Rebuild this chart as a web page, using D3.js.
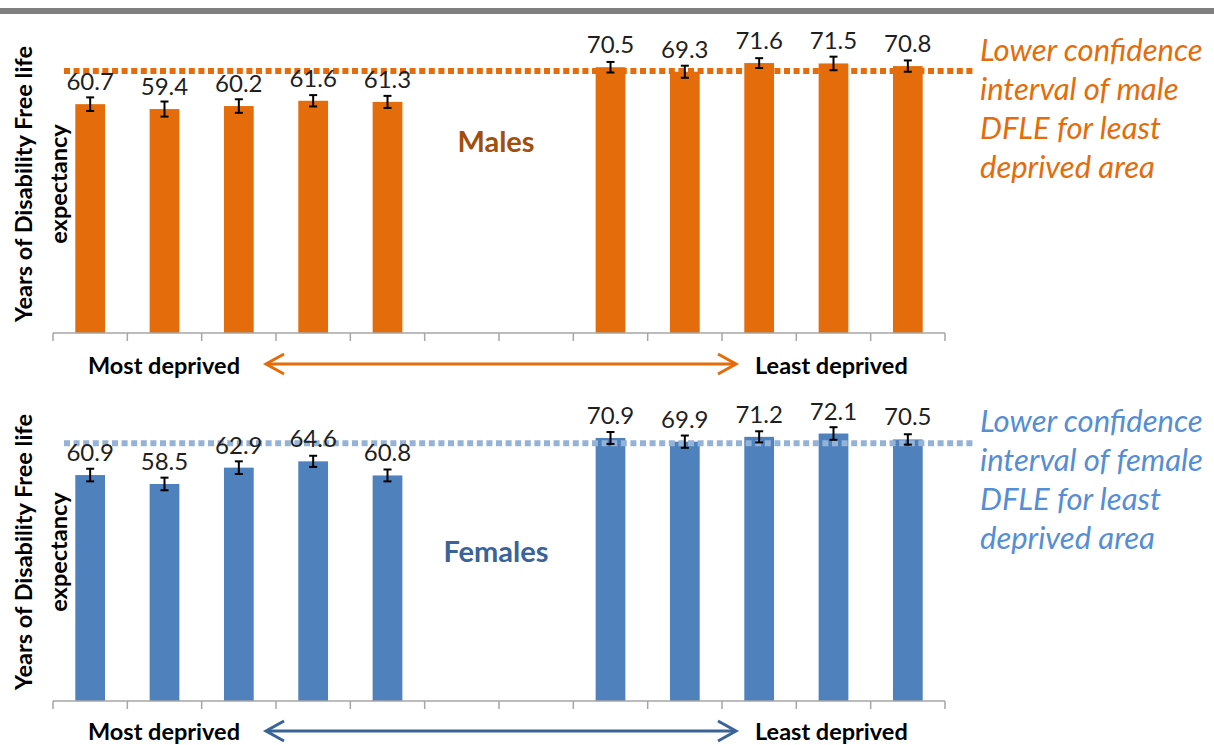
<!DOCTYPE html>
<html>
<head>
<meta charset="utf-8">
<script src="https://cdn.jsdelivr.net/npm/d3@7"></script>
<style>
  body { margin: 0; background: #ffffff; }
  svg { display: block; }
</style>
</head>
<body>
<svg id="chart" width="1214" height="745"></svg>
<script>
// Twelve slots along the deprivation axis: five most deprived areas, a gap, five least deprived areas
const slots = ["MD1", "MD2", "MD3", "MD4", "MD5", "gapA", "gapB", "LD1", "LD2", "LD3", "LD4", "LD5"];

// Disability free life expectancy (years) and half-width of the 95% confidence interval
const maleValues   = [60.7, 59.4, 60.2, 61.6, 61.3, null, null, 70.5, 69.3, 71.6, 71.5, 70.8];
const maleErrors   = [1.8, 2.0, 1.8, 1.5, 1.6, null, null, 1.4, 1.6, 1.3, 1.8, 1.5];
const femaleValues = [60.9, 58.5, 62.9, 64.6, 60.8, null, null, 70.9, 69.9, 71.2, 72.1, 70.5];
const femaleErrors = [1.7, 1.7, 1.7, 1.5, 1.6, null, null, 1.6, 1.65, 1.5, 1.7, 1.4];

// Lower confidence limit of DFLE for the least deprived area
const maleLowerCI = 69.5;
const femaleLowerCI = 69.5;

const yDomain = [0, 80];
const yTitleLines = ["Years of Disability Free life", "expectancy"];
const endLabels = ["Most deprived", "Least deprived"];
const maleNote = ["Lower confidence", "interval of male", "DFLE for least", "deprived area"];
const femaleNote = ["Lower confidence", "interval of female", "DFLE for least", "deprived area"];

const FONT = "Lato, 'Open Sans', sans-serif";
const svg = d3.select("#chart");
const W = 1214;

// grey rule across the top
svg.append("rect").attr("x", 0).attr("y", 8).attr("width", W).attr("height", 6).attr("fill", "#808080");

const x = d3.scaleBand().domain(slots).range([53, 945]).paddingInner(0.6).paddingOuter(0.3);
const step = x.step();

const panels = [
  {
    values: maleValues, errors: maleErrors, lowerCI: maleLowerCI,
    base: 333, top: 31.4,
    bar: "#E46C0A", dots: "#E46C0A", arrow: "#E46C0A",
    title: "Males", titleColor: "#A24E0C", titleY: 152,
    note: maleNote, noteColor: "#E46C0A", noteY: 61,
    titleCenterY: 184, arrowY: 364, endLabelY: 374
  },
  {
    values: femaleValues, errors: femaleErrors, lowerCI: femaleLowerCI,
    base: 701, top: 404.2,
    bar: "#4F81BD", dots: "#95B3D7", arrow: "#3A6496",
    title: "Females", titleColor: "#3A6399", titleY: 562,
    note: femaleNote, noteColor: "#558ED5", noteY: 432,
    titleCenterY: 552, arrowY: 731, endLabelY: 740
  }
];

panels.forEach(p => {
  const y = d3.scaleLinear().domain(yDomain).range([p.base, p.top]);
  const g = svg.append("g");
  const data = slots.map((s, i) => ({ slot: s, v: p.values[i], e: p.errors[i] })).filter(d => d.v != null);

  // bars
  g.selectAll("rect.bar").data(data).join("rect")
    .attr("class", "bar")
    .attr("x", d => x(d.slot))
    .attr("width", x.bandwidth())
    .attr("y", d => y(d.v))
    .attr("height", d => y(0) - y(d.v))
    .attr("fill", p.bar);

  // category axis: baseline plus boundary ticks between slots
  const bounds = slots.map(s => x(s) - step * x.paddingInner() / 2);
  bounds.push(x(slots[slots.length - 1]) + x.bandwidth() + step * x.paddingInner() / 2);
  g.append("line")
    .attr("x1", bounds[0]).attr("x2", bounds[bounds.length - 1])
    .attr("y1", y(0)).attr("y2", y(0))
    .attr("stroke", "#A6A6A6").attr("stroke-width", 1.5);
  g.selectAll("line.tick").data(bounds).join("line")
    .attr("class", "tick")
    .attr("x1", d => d).attr("x2", d => d)
    .attr("y1", y(0)).attr("y2", y(0) + 8)
    .attr("stroke", "#A6A6A6").attr("stroke-width", 1.5);

  // dotted reference line at the lower confidence limit
  g.append("line")
    .attr("x1", 64).attr("x2", 975)
    .attr("y1", y(p.lowerCI)).attr("y2", y(p.lowerCI))
    .attr("stroke", p.dots).attr("stroke-width", 6)
    .attr("stroke-dasharray", "6 3.6");

  // error bars
  const eb = g.selectAll("g.err").data(data).join("g").attr("class", "err");
  const cx = d => x(d.slot) + x.bandwidth() / 2;
  eb.append("line")
    .attr("x1", cx).attr("x2", cx)
    .attr("y1", d => y(d.v + d.e)).attr("y2", d => y(d.v - d.e))
    .attr("stroke", "#000").attr("stroke-width", 2);
  [1, -1].forEach(sign => {
    eb.append("line")
      .attr("x1", d => cx(d) - 4).attr("x2", d => cx(d) + 4)
      .attr("y1", d => y(d.v + sign * d.e)).attr("y2", d => y(d.v + sign * d.e))
      .attr("stroke", "#000").attr("stroke-width", 2);
  });

  // value labels
  g.selectAll("text.val").data(data).join("text")
    .attr("class", "val")
    .attr("x", cx)
    .attr("y", d => y(d.v) - 14)
    .attr("text-anchor", "middle")
    .attr("font-family", FONT)
    .attr("font-size", 24)
    .attr("fill", "#1f1f1f")
    .text(d => d.v.toFixed(1));

  // y axis title in two rotated lines
  [32, 67].forEach((bx, li) => {
    g.append("text")
      .attr("transform", `translate(${bx},${p.titleCenterY}) rotate(-90)`)
      .attr("text-anchor", "middle")
      .attr("font-family", FONT)
      .attr("font-weight", "bold")
      .attr("font-size", 23.5)
      .attr("fill", "#000")
      .text(yTitleLines[li]);
  });

  // panel title
  g.append("text")
    .attr("x", 496).attr("y", p.titleY)
    .attr("text-anchor", "middle")
    .attr("font-family", FONT)
    .attr("font-weight", "bold")
    .attr("font-size", 29)
    .attr("fill", p.titleColor)
    .text(p.title);

  // note on the right
  p.note.forEach((line, li) => {
    g.append("text")
      .attr("x", 980).attr("y", p.noteY + li * 39)
      .attr("font-family", FONT)
      .attr("font-style", "italic")
      .attr("font-size", 31)
      .attr("fill", p.noteColor)
      .text(line);
  });

  // end labels and the double-headed arrow between them
  g.append("text")
    .attr("x", 88).attr("y", p.endLabelY)
    .attr("font-family", FONT)
    .attr("font-weight", "bold")
    .attr("font-size", 23.5)
    .attr("fill", "#000")
    .text(endLabels[0]);
  g.append("text")
    .attr("x", 755).attr("y", p.endLabelY)
    .attr("font-family", FONT)
    .attr("font-weight", "bold")
    .attr("font-size", 23.5)
    .attr("fill", "#000")
    .text(endLabels[1]);

  const ay = p.arrowY, x0 = 266, x1 = 736;
  g.append("line")
    .attr("x1", x0 + 1).attr("x2", x1 - 1).attr("y1", ay).attr("y2", ay)
    .attr("stroke", p.arrow).attr("stroke-width", 3);
  g.append("path")
    .attr("d", `M${x0 + 18},${ay - 10} L${x0},${ay} L${x0 + 18},${ay + 10}`)
    .attr("fill", "none").attr("stroke", p.arrow).attr("stroke-width", 3);
  g.append("path")
    .attr("d", `M${x1 - 18},${ay - 10} L${x1},${ay} L${x1 - 18},${ay + 10}`)
    .attr("fill", "none").attr("stroke", p.arrow).attr("stroke-width", 3);
});
</script>
</body>
</html>
